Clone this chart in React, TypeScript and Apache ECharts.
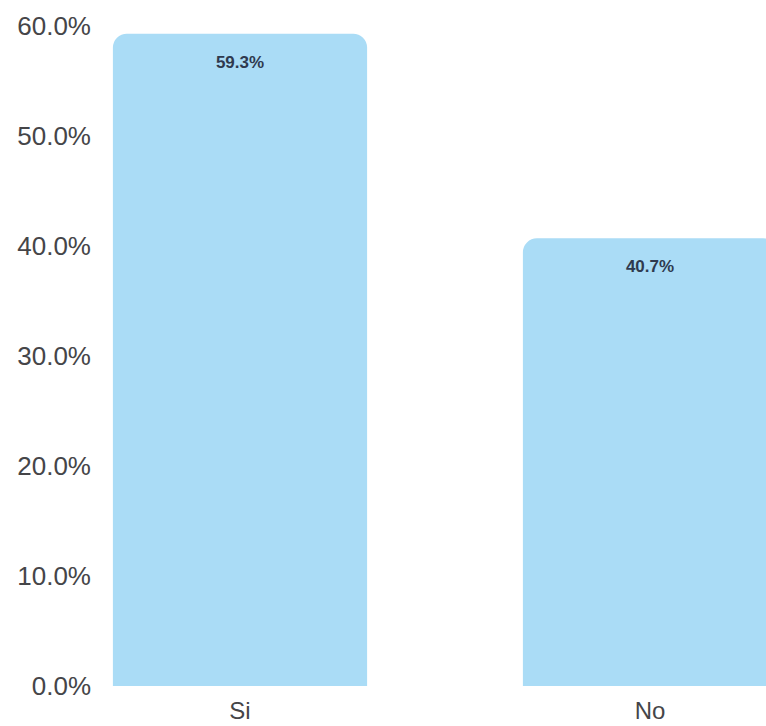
import React, { useEffect, useRef } from "react";
import * as echarts from "echarts";

const categories = ["Si", "No"];
const values = [59.3, 40.7];
const yTicks = [0, 10, 20, 30, 40, 50, 60];

export default function App() {
  const ref = useRef<HTMLDivElement>(null);
  useEffect(() => {
    if (!ref.current) return;
    const chart = echarts.init(ref.current, null, { renderer: "svg" });
    chart.setOption({
      animation: false,
      backgroundColor: "#ffffff",
      grid: {
        left: 35,
        width: 820,
        top: 26,
        bottom: 40,
        containLabel: false,
        outerBoundsMode: "none",
      },
      xAxis: {
        type: "category",
        data: categories,
        axisLine: { show: false },
        axisTick: { show: false },
        axisLabel: {
          margin: 12,
          fontSize: 24,
          color: "#454548",
          fontFamily: "Liberation Sans, Arial, sans-serif",
        },
      },
      yAxis: {
        type: "value",
        min: yTicks[0],
        max: yTicks[yTicks.length - 1],
        interval: 10,
        splitLine: { show: false },
        axisLine: { show: false },
        axisTick: { show: false },
        axisLabel: {
          margin: -56,
          fontSize: 26,
          color: "#454548",
          fontFamily: "Liberation Sans, Arial, sans-serif",
          formatter: (v: number) => v.toFixed(1) + "%",
        },
      },
      series: [
        {
          type: "bar",
          data: values,
          barWidth: "62%",
          itemStyle: { color: "#aadcf6", borderRadius: [14, 14, 0, 0] },
          label: {
            show: true,
            position: "insideTop",
            distance: 20,
            formatter: (p: any) => p.value.toFixed(1) + "%",
            fontSize: 17,
            fontWeight: "bold",
            color: "#2f3a4f",
            fontFamily: "Liberation Sans, Arial, sans-serif",
          },
        },
      ],
    });
    return () => chart.dispose();
  }, []);
  return (
    <div
      ref={ref}
      style={{ width: 766, height: 726, position: "fixed", left: 0, top: 0 }}
    />
  );
}
